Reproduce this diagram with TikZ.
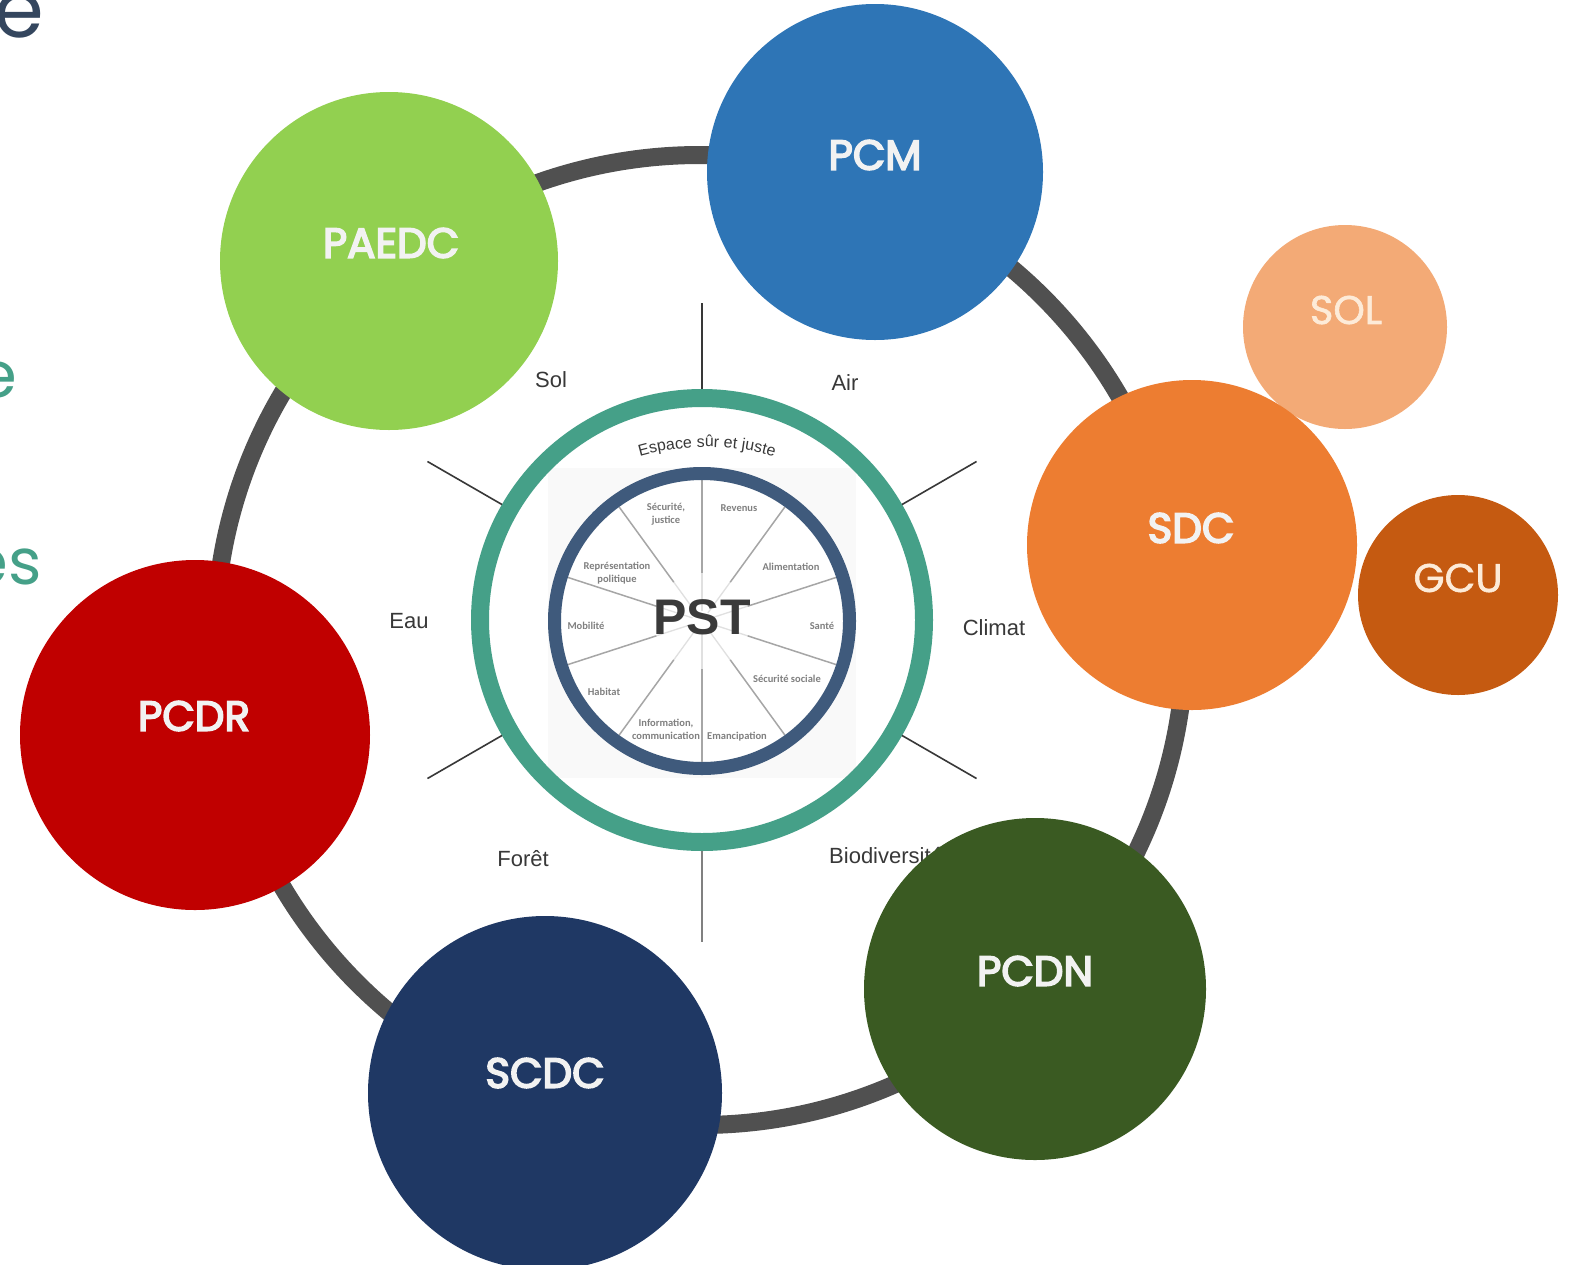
\documentclass[tikz,border=0pt]{standalone}
\usepackage{fontspec}
\setmainfont{Liberation Sans}
\newfontfamily\circfont{Poppins}
\newfontfamily\circfontM{Poppins}[FakeBold=4]
\newfontfamily\circfontL{Poppins}[FakeBold=1.5]
\newfontfamily\wheelfont{Carlito}
\usetikzlibrary{decorations.text}
\definecolor{ringgray}{HTML}{505050}
\definecolor{ringgreen}{HTML}{45A088}
\definecolor{wheelnavy}{HTML}{3F5A7C}
\definecolor{wheelbg}{HTML}{F9F9F9}
\definecolor{spokegray}{HTML}{A6A6A6}
\definecolor{wheeltext}{HTML}{808080}
\definecolor{labelgray}{HTML}{383838}
\definecolor{pstgray}{HTML}{3A3A3A}
\definecolor{slidenavy}{HTML}{34465E}
\definecolor{slideteal}{HTML}{45A088}
\definecolor{cPAEDC}{HTML}{92D050}
\definecolor{cPCM}{HTML}{2E75B6}
\definecolor{cSDC}{HTML}{ED7D31}
\definecolor{cSOL}{HTML}{F3AA76}
\definecolor{cGCU}{HTML}{C55A11}
\definecolor{cPCDR}{HTML}{C00000}
\definecolor{cSCDC}{HTML}{1F3864}
\definecolor{cPCDN}{HTML}{3A5A22}
\definecolor{softwhite}{HTML}{F2F2F2}
\definecolor{cream}{HTML}{FDEBD8}
\begin{document}
\begin{tikzpicture}[x=1pt,y=1pt,
  bub/.style={circle, inner sep=0pt, draw=none},
  blab/.style={inner sep=0pt, text=softwhite, font=\circfontM\fontsize{42}{42}\selectfont},
  slab/.style={inner sep=0pt, text=cream, font=\circfontL\fontsize{40}{40}\selectfont},
  envlab/.style={inner sep=0pt, text=labelgray, font=\fontsize{22}{24}\selectfont},
  wlab/.style={inner sep=0pt, text=wheeltext, align=center, font=\wheelfont\bfseries\fontsize{10.5}{13}\selectfont},
  outerspoke/.style={draw=labelgray, line width=1.6pt},
  innerspoke/.style={draw=spokegray, line width=1.5pt}]
\useasboundingbox (0,0) rectangle (1570,-1264);
\clip (0,0) rectangle (1570,-1264);
\fill[white] (0,0) rectangle (1570,-1264);

% cut-off slide text on the left edge
\node[anchor=base east, inner sep=0pt, text=slidenavy, font=\circfont\fontsize{80}{80}\selectfont] (fragA) at (44,-37) {e};
\node[anchor=base east, inner sep=0pt, text=slideteal, font=\circfont\fontsize{64}{64}\selectfont] (fragB) at (17,-397) {e};
\node[anchor=base east, inner sep=0pt, text=slideteal, font=\circfont\fontsize{64}{64}\selectfont] (fragC) at (42,-584) {es};

% big gray ring
\coordinate (rc) at (700,-640);
\draw[ringgray, line width=18pt] (rc) circle (485);

% PST wheel
\node[fill=wheelbg, minimum width=308pt, minimum height=310pt, inner sep=0pt] (wbg) at (702,-623) {};
\coordinate (pc) at (702,-621);
\fill[white] (pc) circle (141);
\foreach \a in {90,54,18,-18,-54,-90,-126,-162,162,126}{
  \draw[draw=spokegray!35, line width=1.3pt] ([shift={(\a:10)}]pc) -- ([shift={(\a:48)}]pc);
  \draw[innerspoke] ([shift={(\a:48)}]pc) -- ([shift={(\a:141)}]pc);
}
\draw[wheelnavy, line width=13pt] (pc) circle (147.5);

\node[wlab] (w1) at (666,-514) {Sécurité,\\justice};
\node[wlab] (w2) at (739,-508) {Revenus};
\node[wlab] (w3) at (791,-567) {Alimentation};
\node[wlab] (w4) at (822,-626) {Santé};
\node[wlab] (w5) at (787,-679) {Sécurité sociale};
\node[wlab] (w6) at (737,-737) {Emancipation};
\node[wlab] (w7) at (666,-729) {Information,\\communication};
\node[wlab] (w8) at (604,-692) {Habitat};
\node[wlab] (w9) at (586,-626) {Mobilité};
\node[wlab] (w10) at (617,-573) {Représentation\\politique};

\node[inner sep=0pt, text=pstgray, font=\bfseries\fontsize{50}{50}\selectfont] (pst) at (702,-617) {PST};

% green ring and outer spokes
\coordinate (gc) at (702,-620);
\draw[ringgreen, line width=18pt] (gc) circle (222);
\foreach \a in {30,90,150,210,330}{
  \draw[outerspoke] ([shift={(\a:231)}]gc) -- ([shift={(\a:317)}]gc);
}
\draw[draw=gray, line width=1.6pt] ([shift={(270:231)}]gc) -- ([shift={(270:322)}]gc);

% curved title
\coordinate (ec) at (707,-690);
\path[decorate, decoration={text along path, text align=center,
  text={|\fontsize{16}{16}\selectfont\color{labelgray}|Espace sûr et juste}}]
  ([shift={(110:243)}]ec) arc (110:70:243);

% environment labels
\node[envlab] (lsol) at (551,-380) {Sol};
\node[envlab] (lair) at (845,-383) {Air};
\node[envlab] (lclimat) at (994,-628) {Climat};
\node[envlab, anchor=west] (lbio) at (829,-855) {Biodiversité};
\node[envlab] (lforet) at (523,-859) {Forêt};
\node[envlab] (leau) at (409,-621) {Eau};

% coloured circles
\node[bub, fill=cPAEDC, minimum size=338pt] (paedc) at (389,-261) {};
\node[bub, fill=cPCM, minimum size=336pt] (pcm) at (875,-172) {};
\node[bub, fill=cSOL, minimum size=204pt] (sol) at (1345,-327) {};
\node[bub, fill=cSDC, minimum size=330pt] (sdc) at (1192,-545) {};
\node[bub, fill=cGCU, minimum size=200pt] (gcu) at (1458,-595) {};
\node[bub, fill=cPCDN, minimum size=342pt] (pcdn) at (1035,-989) {};
\node[bub, fill=cSCDC, minimum size=354pt] (scdc) at (545,-1093) {};
\node[bub, fill=cPCDR, minimum size=350pt] (pcdr) at (195,-735) {};

\node[blab] (tpaedc) at (391,-243) {PAEDC};
\node[blab] (tpcm) at (875,-155) {PCM};
\node[blab] (tsdc) at (1191,-528) {SDC};
\node[slab] (tsol) at (1346,-310) {SOL};
\node[slab] (tgcu) at (1458,-578) {GCU};
\node[blab] (tpcdr) at (194,-716) {PCDR};
\node[blab] (tscdc) at (545,-1073) {SCDC};
\node[blab] (tpcdn) at (1035,-971) {PCDN};
\end{tikzpicture}
\end{document}
